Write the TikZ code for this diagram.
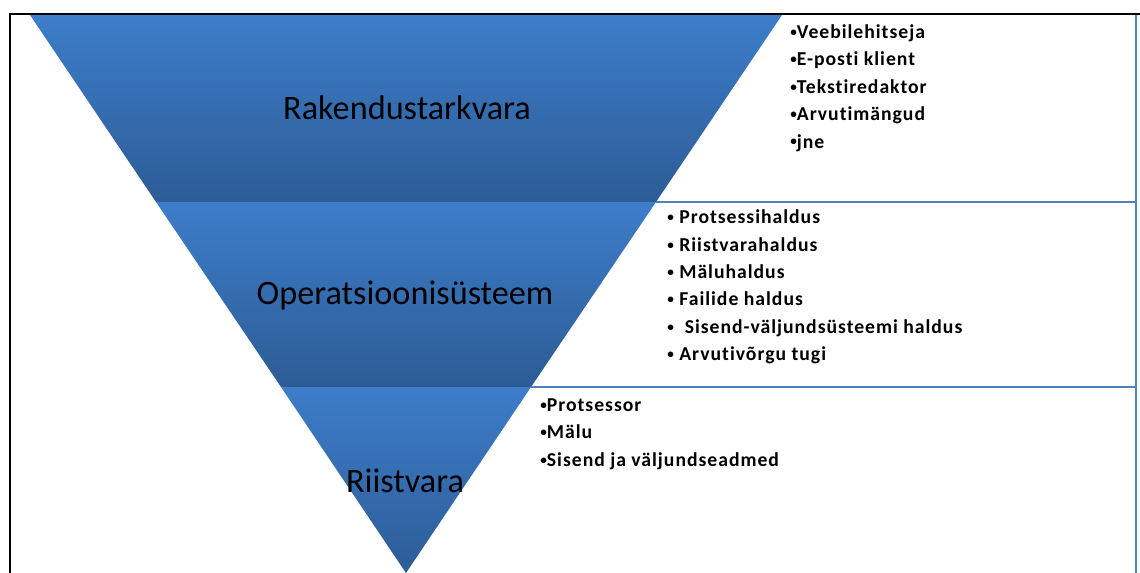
\documentclass[tikz,border=0pt]{standalone}
\usepackage{fontspec}
\setmainfont[Ligatures=NoCommon]{Carlito}
\newfontfamily\listfont[LetterSpace=5,Ligatures=NoCommon]{Carlito}
\definecolor{bandtop}{RGB}{61,125,202}
\definecolor{bandbot}{RGB}{45,92,150}
\definecolor{boxline}{RGB}{79,129,189}
\newcommand\itemdot{\raisebox{.22ex}{\fontsize{7.5}{7.5}\selectfont•}}
\tikzset{
  band/.style={top color=bandtop, bottom color=bandbot},
  layer/.style={font=\fontsize{19.5}{23}\selectfont, inner sep=0pt},
  items/.style={font=\listfont\bfseries\fontsize{11.2}{15.6}\selectfont, align=left, anchor=west, inner sep=0pt},
  boxsep/.style={draw=boxline, line width=1.4pt}
}
\begin{document}
\begin{tikzpicture}[x=0.02cm, y=-0.02cm]
   \useasboundingbox (0,0) rectangle (1140,572);
   \coordinate (T1) at (30,15);
   \coordinate (T2) at (782,15);
   \coordinate (M1) at (156,202);
   \coordinate (M2) at (656,202);
   \coordinate (L1) at (281,387);
   \coordinate (L2) at (531,387);
   \coordinate (A) at (406,573);
   \coordinate (R0) at (1136,15);
   \coordinate (R1) at (1136,202);
   \coordinate (R2) at (1136,387);
   \coordinate (R3) at (1136,575);
   % box lines on the right
   \draw[boxsep] (M2) -- (R1);
   \draw[boxsep] (L2) -- (R2);
   \draw[boxsep] (R0) -- (R3);
   % frame
   \draw[line width=1.2pt] (10,575) -- (10,14) -- (1140,14);
   % the three bands
   \shade[band] (T1) -- (T2) -- (M2) -- (M1) -- cycle;
   \shade[band] (M1) -- (M2) -- (L2) -- (L1) -- cycle;
   \shade[band] (L1) -- (L2) -- (A) -- cycle;
   \node[layer] (rak) at (407,108) {Rakendustarkvara};
   \node[layer] (os) at (405,295) {Operatsioonisüsteem};
   \node[layer] (riist) at (405,481) {Riistvara};
   \node[items] (rakl) at (790,88) {\itemdot Veebilehitseja\\\itemdot E-posti klient\\\itemdot Tekstiredaktor\\\itemdot Arvutimängud\\\itemdot jne};
   \node[items] (osl) at (667,287) {\itemdot\ Protsessihaldus\\\itemdot\ Riistvarahaldus\\\itemdot\ Mäluhaldus\\\itemdot\ Failide haldus\\\itemdot\ \ Sisend-väljundsüsteemi haldus\\\itemdot\ Arvutivõrgu tugi};
   \node[items] (riistl) at (540,434) {\itemdot Protsessor\\\itemdot Mälu\\\itemdot Sisend ja väljundseadmed};
\end{tikzpicture}
\end{document}
